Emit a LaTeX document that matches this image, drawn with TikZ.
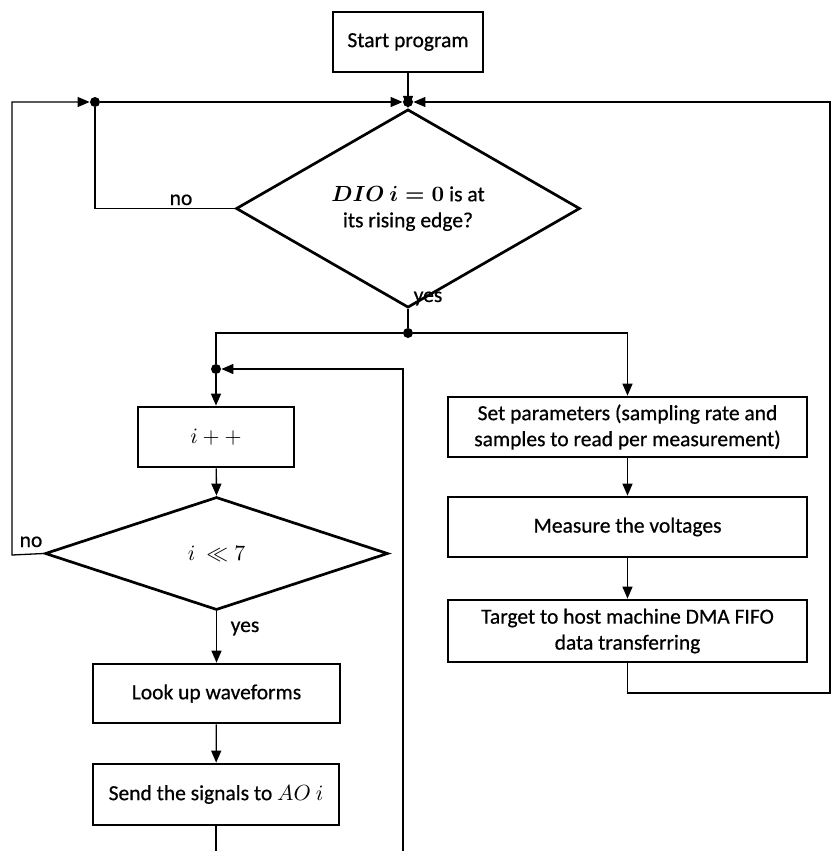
\documentclass[tikz,border=0pt]{standalone}
\usepackage{amsmath}
\usepackage{fontspec}
\setmainfont{Carlito}[FakeBold=0.6]
\usepackage{tikz}
\usetikzlibrary{shapes.geometric, arrows.meta, positioning, calc}
\usepackage{xcolor}
\definecolor{flowblack}{HTML}{000000}
\tikzset{
  procbox/.style={rectangle, draw=flowblack, line width=1.35pt, fill=white,
                  minimum height=30pt, align=center, inner sep=2pt,
                  font=\fontsize{10.75}{13}\selectfont},
  decbox/.style={diamond, draw=flowblack, line width=1.35pt, fill=white,
                 inner sep=0pt, align=center,
                 font=\fontsize{10.75}{13}\selectfont},
  junction/.style={circle, fill=flowblack, draw=none, minimum size=5pt, inner sep=0pt},
  flow/.style={draw=flowblack, line width=0.65pt},
  flowarrow/.style={->, draw=flowblack, line width=0.65pt,
                    >={Triangle[length=6pt,width=5pt]}},
  flowlabel/.style={font=\fontsize{10.75}{13}\selectfont, inner sep=0pt, anchor=base},
}

\begin{document}
\begin{tikzpicture}[x=0.5pt, y=-0.5pt]
  \useasboundingbox (0,0) rectangle (832,851);

  % --- Boxes ---
  \node[procbox, minimum width=75pt] (start) at (408, 42) {Start program};
  \node[decbox, minimum width=172pt, minimum height=71.5pt] (dio) at (408, 208.5)
    {$\boldsymbol{DIO\ i = 0}$ is at\\its rising edge?};
  \node[procbox, minimum width=78pt] (inc) at (216, 437) {$i + +$};
  \node[decbox, minimum width=171.5pt, minimum height=56.5pt] (cond) at (216.5, 553.5)
    {$i\ \ll 7$};
  \node[procbox, minimum width=123.5pt, minimum height=29.5pt] (lookup) at (216.5, 693.5)
    {Look up waveforms};
  \node[procbox, minimum width=123pt, minimum height=30.5pt] (send) at (216, 794.5)
    {Send the signals to $AO\ i$};
  \node[procbox, minimum width=179.5pt] (setp) at (627.5, 427)
    {Set parameters (sampling rate and\\samples to read per measurement)};
  \node[procbox, minimum width=179.5pt] (meas) at (627.5, 527) {Measure the voltages};
  \node[procbox, minimum width=179.5pt, minimum height=31pt] (target) at (627.5, 631)
    {Target to host machine DMA FIFO\\data transferring};

  % --- Junctions ---
  \node[junction] (jtop)  at (408, 102) {};
  \node[junction] (jleft) at (95, 102) {};
  \node[junction] (jyes)  at (408, 333) {};
  \node[junction] (jloop) at (216, 369) {};

  % --- Corner points ---
  \coordinate (cornerLB) at (12, 555);
  \coordinate (cornerLT) at (12, 102);
  \coordinate (cornerRB) at (830, 693);
  \coordinate (cornerRT) at (830, 102);
  \coordinate (loopB)    at (403, 851);
  \coordinate (loopT)    at (403, 369);
  \coordinate (sendend)  at (216, 851);

  % --- Connectors ---
  \draw[flow] (start) -- (jtop);
  \draw[flowarrow] (jtop) -- (dio.north);
  \draw[flow] (dio.west) -| (jleft);
  \draw[flowarrow] (jleft) -- (jtop);
  \draw[flowarrow] (target.south) |- (cornerRB) -- (cornerRT) -- (jtop);
  \draw[flow] (dio.south) -- (jyes);
  \draw[flowarrow] (jyes) -| (setp.north);
  \draw[flow] (jyes) -| (jloop);
  \draw[flowarrow] (setp) -- (meas);
  \draw[flowarrow] (meas) -- (target);
  \draw[flowarrow] (jloop) -- (inc);
  \draw[flowarrow] (inc) -- (cond.north);
  \draw[flowarrow] (cond.west) -- (cornerLB) -- (cornerLT) -- (jleft);
  \draw[flowarrow] (cond.south) -- (lookup);
  \draw[flowarrow] (lookup) -- (send);
  \draw[flow] (send) -- (sendend);
  \draw[flowarrow] (loopB) -- (loopT) -- (jloop);

  % --- Labels ---
  \node[flowlabel] (nodio)   at (181, 205) {no};
  \node[flowlabel] (yesdio)  at (428, 302) {yes};
  \node[flowlabel] (nocond)  at (31, 547)  {no};
  \node[flowlabel] (yescond) at (245, 632) {yes};

\end{tikzpicture}
\end{document}
